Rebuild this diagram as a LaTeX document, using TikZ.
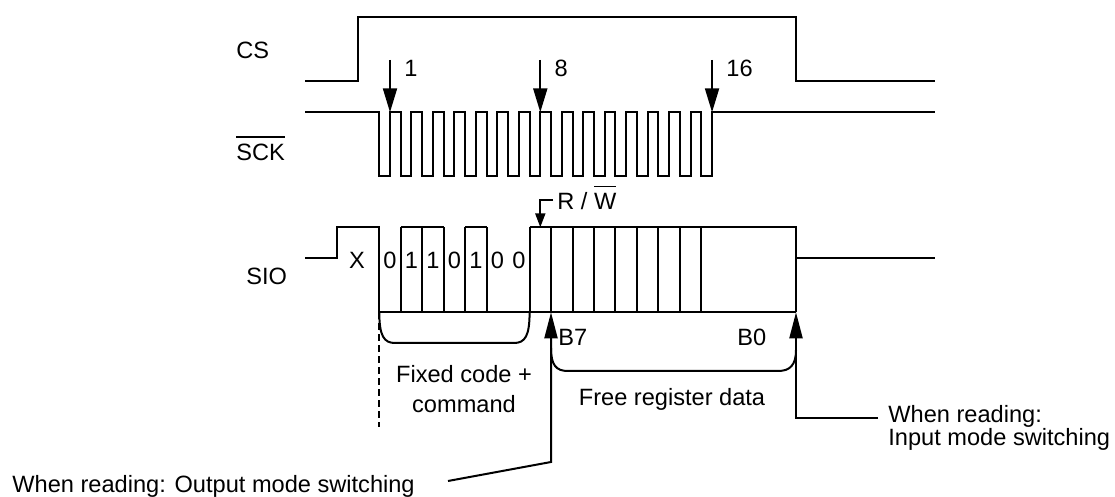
\documentclass[tikz,border=0pt]{standalone}
\usepackage{fontspec}
\setmainfont{Liberation Sans}
\usetikzlibrary{arrows.meta}
\newcommand{\ovbar}[1]{\leavevmode\vbox{\hrule height 0.9pt\kern 3.2pt\hbox{#1}}}

\begin{document}
\begin{tikzpicture}[x=0.5pt, y=-0.5pt,
  sig/.style={line width=1pt},
  lbl/.style={inner sep=0pt, font=\fontsize{11.8}{12}\selectfont},
  clkarr/.style={line width=1pt, -{Triangle[length=12pt, width=7pt]}},
  rwarr/.style={line width=1pt, -{Triangle[length=7pt, width=5pt]}},
  bitarr/.style={line width=1pt, -{Triangle[length=13pt, width=6.5pt]}}
]
  \useasboundingbox (0,0) rectangle (1115,497);
  \def\per{21.47}

  % signal names
  \node[lbl, anchor=base west] (cs)  at (236,59)  {CS};
  \node[lbl, anchor=base west] (sck) at (236,161) {\ovbar{SCK}};
  \node[lbl, anchor=base west] (sio) at (246,285) {SIO};

  % CS
  \draw[sig] (305,80.7) -- (357.7,80.7) -- (357.7,16.7) -- (796,16.7)
    -- (796,80.7) -- (935,80.7);

  % SCK, 16 clocks
  \draw[sig] (305,112.3) foreach \k in {0,...,15} {
      -- ({379.3+\per*\k},112.3) -- ({379.3+\per*\k},175.7)
      -- ({390+\per*\k},175.7) -- ({390+\per*\k},112.3)}
    -- (935,112.3);

  % clock numbers
  \foreach \k/\t in {0/1, 7/8, 15/16} {
    \coordinate (top\t) at ({390+\per*\k},60);
    \coordinate (tip\t) at ({390+\per*\k},112.3);
    \draw[clkarr] (top\t) -- (tip\t);
    \node[lbl, anchor=base west] (num\t) at ({404+\per*\k},77) {\t};
  }

  % SIO
  \draw[sig] (305,258.5) -- (337,258.5) -- (337,227.3) -- (379.3,227.3)
    -- (379.3,312.3) -- (796,312.3);
  \draw[sig] (400.77,227.3) -- (443.7,227.3);
  \draw[sig] (465.2,227.3) -- (486.6,227.3);
  \draw[sig] (529.6,227.3) -- (796,227.3) -- (796,312.3);
  \draw[sig] (796,258.5) -- (935,258.5);
  \foreach \k in {1,2,3,4,5,7,8,9,10,11,12,13,14,15}
    \draw[sig] ({379.3+\per*\k},227.3) -- ({379.3+\per*\k},312.3);

  \node[lbl, anchor=base] (xbit) at (357,268.5) {X};
  \foreach \k/\b in {0/0, 1/1, 2/1, 3/0, 4/1, 5/0, 6/0}
    \node[lbl, anchor=base] (bit\k) at ({390+\per*\k},268.5) {\b};

  % R/W bit
  \coordinate (rwfoot) at (553,200);
  \coordinate (rwbend) at (540.3,200);
  \coordinate (rwtip)  at (540.3,227.3);
  \draw[rwarr] (rwfoot) -- (rwbend) -- (rwtip);
  \node[lbl, anchor=base west] (rw) at (557,210) {R / \ovbar{W}};

  % fixed code + command
  \draw[sig] (379.3,312.3) .. controls (379.3,336) and (384,343) .. (395,343)
    -- (514,343) .. controls (525,343) and (529.6,336) .. (529.6,312.3);
  \draw[sig, dash pattern=on 3.5pt off 2pt] (379.3,312.3) -- (379.3,427);
  \node[lbl, align=center, anchor=base] (fixed) at (464,412.3)
    {Fixed code +\\[3pt]command};

  % free register data
  \draw[sig] (551,348) .. controls (551,365) and (556,371) .. (568,371)
    -- (778,371) .. controls (790,371) and (796,365) .. (796,350);
  \node[lbl, anchor=base west] (b7) at (558,345.7) {B7};
  \node[lbl, anchor=base east] (b0) at (766.7,345.7) {B0};
  \node[lbl, anchor=base] (free) at (672,406) {Free register data};

  % mode switching
  \coordinate (outend)  at (448,481);
  \coordinate (outbend) at (551,462);
  \coordinate (outtip)  at (551,312.3);
  \draw[bitarr] (outend) -- (outbend) -- (outtip);
  \node[lbl, anchor=base west] (outlbl) at (12,493)
    {When reading: Output mode switching};

  \coordinate (inend)  at (878,418.3);
  \coordinate (inbend) at (796,418.3);
  \coordinate (intip)  at (796,312.3);
  \draw[bitarr] (inend) -- (inbend) -- (intip);
  \node[lbl, align=left, anchor=base west] (inlbl) at (888,446)
    {When reading:\\Input mode switching};
\end{tikzpicture}
\end{document}
